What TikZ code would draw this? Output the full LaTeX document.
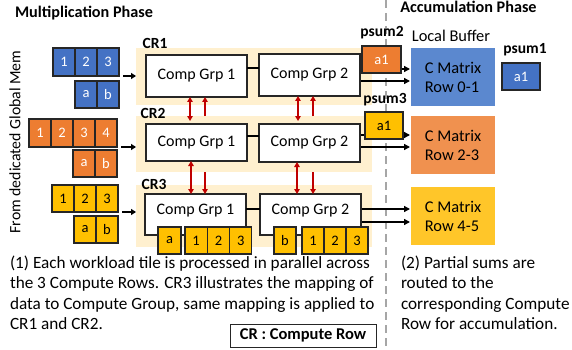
\documentclass[tikz,border=0pt]{standalone}
\usepackage{fontspec}
\setmainfont{Carlito}
\usetikzlibrary{arrows.meta}
\definecolor{tileblue}{HTML}{4472C4}
\definecolor{tileorange}{HTML}{ED7D31}
\definecolor{tileyellow}{HTML}{FFC000}
\definecolor{tileedge}{HTML}{262626}
\definecolor{crfill}{HTML}{FFF0CF}
\definecolor{bufblue}{HTML}{5B88CF}
\definecolor{buforange}{HTML}{F0914F}
\definecolor{bufyellow}{HTML}{FFC629}
\definecolor{linkred}{HTML}{C00000}
\definecolor{divider}{HTML}{A6A6A6}
\begin{document}
\begin{tikzpicture}[x=1pt,y=-1pt,
  every node/.style={inner sep=0pt, outer sep=0pt},
  tile/.style={draw=tileedge, line width=1.1pt, minimum width=22pt, minimum height=27pt,
    anchor=north west, font=\fontsize{14.5}{14.5}\selectfont},
  btile/.style={tile, fill=tileblue, text=white},
  otile/.style={tile, fill=tileorange, text=white},
  ytile/.style={tile, fill=tileyellow, text=black},
  crbox/.style={fill=crfill, anchor=north west},
  grp/.style={draw=tileedge, line width=1.1pt, fill=white, anchor=north west,
    minimum width=101pt, font=\fontsize{16}{16}\selectfont},
  buf/.style={anchor=north west, minimum width=84pt, minimum height=58pt,
    align=left, font=\fontsize{16.4}{19}\selectfont},
  label/.style={font=\bfseries\fontsize{15.5}{15.5}\selectfont},
  heading/.style={font=\bfseries\fontsize{16.2}{16.2}\selectfont},
  inarr/.style={-{Triangle[length=5pt,width=6pt]}, line width=1.3pt},
  outarr/.style={-{Triangle[length=6pt,width=6pt]}, line width=1.3pt},
  link/.style={linkred, line width=1.3pt, >={Triangle[length=5pt,width=5.5pt]}},
  note/.style={anchor=north west, align=left, font=\fontsize{17.2}{20.4}\selectfont},
]
\useasboundingbox (0,0) rectangle (572,350);

% phase divider
\draw[divider, line width=1.6pt, dash pattern=on 8pt off 5pt] (386,0) -- (386,350);

% headings
\node[heading, anchor=west] (multph) at (15,13) {Multiplication Phase};
\node[heading] (accph) at (468.5,7) {Accumulation Phase};
\node[rotate=90, font=\fontsize{15.8}{15.8}\selectfont] (gmem) at (15,142) {From dedicated Global Mem};

% compute row backgrounds
\node[crbox, minimum width=236pt, minimum height=57pt] (cr1) at (136,48) {};
\node[crbox, minimum width=236pt, minimum height=56pt] (cr2) at (136,116) {};
\node[crbox, minimum width=236pt, minimum height=62pt] (cr3) at (136,185) {};
\node[label] (cr1lbl) at (155,43) {CR1};
\node[label] (cr2lbl) at (153,113) {CR2};
\node[label] (cr3lbl) at (154,184) {CR3};

% input tiles, CR1
\node[btile, minimum height=28pt] (b1) at (53,48) {1};
\node[btile, minimum height=28pt] (b2) at (75,48) {2};
\node[btile, minimum height=28pt] (b3) at (97,48) {3};
\node[btile] (ba) at (75,81) {a};
\node[btile] (bb) at (97,81) {b};
% input tiles, CR2
\node[otile, minimum height=28pt] (o1) at (29,119) {1};
\node[otile, minimum height=28pt] (o2) at (51,119) {2};
\node[otile, minimum height=28pt] (o3) at (73,119) {3};
\node[otile, minimum height=28pt] (o4) at (95,119) {4};
\node[otile] (oa) at (73,150) {a};
\node[otile] (ob) at (95,150) {b};
% input tiles, CR3
\node[ytile] (y1) at (52,185) {1};
\node[ytile] (y2) at (74,185) {2};
\node[ytile] (y3) at (96,185) {3};
\node[ytile] (ya) at (74,216) {a};
\node[ytile] (yb) at (96,216) {b};

% feeds into the compute rows
\draw[inarr] ([xshift=4pt]b3.south east) -- (cr1.west |- b3.south east);
\draw[inarr] ([xshift=4pt]o4.south east) -- (cr2.west |- o4.south east);
\draw[inarr] ([xshift=4pt]y3.south east) -- (cr3.west |- y3.south east);

% output routes to the local buffers (drawn under the psum tiles)
\draw[outarr] (360,69) -- (410,69);
\draw[outarr] (360,81) -- (410,81);
\draw[outarr] (360,135) -- (410,135);
\draw[outarr] (360,147) -- (410,147);
\draw[outarr] (361,209) -- (410,209);
\draw[outarr] (361,222) -- (410,222);

% compute groups
\node[grp, minimum height=42pt] (g11) at (146,55) {Comp Grp 1};
\node[grp, minimum height=42pt] (g12) at (259,54) {Comp Grp 2};
\node[grp, minimum height=37pt] (g21) at (146,124) {Comp Grp 1};
\node[grp, minimum height=38pt] (g22) at (259,124) {Comp Grp 2};
\node[grp, minimum height=41pt, text depth=10pt] (g31) at (145,194) {Comp Grp 1};
\node[grp, minimum height=41pt, text depth=10pt] (g32) at (260,194) {Comp Grp 2};

% group-to-group links
\draw[line width=1.3pt] (g11.east |- 0,68) -- (g12.west |- 0,68);
\draw[line width=1.3pt] (g21.east |- 0,136) -- (g22.west |- 0,136);
\draw[line width=1.3pt] (g31.east |- 0,209) -- (g32.west |- 0,209);

% data mapping onto the CR3 groups
\node[ytile, minimum width=23pt] (ma) at (158,227) {a};
\node[ytile, minimum width=22.3pt] (m1) at (185,227) {1};
\node[ytile, minimum width=22.3pt] (m2) at (207.3,227) {2};
\node[ytile, minimum width=22.3pt] (m3) at (229.6,227) {3};
\node[ytile] (mb) at (274,227) {b};
\node[ytile] (n1) at (302,227) {1};
\node[ytile] (n2) at (324,227) {2};
\node[ytile] (n3) at (346,227) {3};

% links between compute rows
\draw[link, <->] (190,0 |- g11.south) -- (190,121);
\draw[link, ->] (205,0 |- cr2.north) -- (205,0 |- g11.south);
\draw[link, <->] (298,0 |- g12.south) -- (298,121);
\draw[link, ->] (313,0 |- cr2.north) -- (313,0 |- g12.south);
\draw[link, <->] (191,0 |- g21.south) -- (191,0 |- g31.north);
\draw[link, ->] (205,0 |- cr2.south) -- (205,0 |- g31.north);
\draw[link, <->] (297,0 |- g22.south) -- (297,0 |- g32.north);
\draw[link, ->] (313,0 |- cr2.south) -- (313,0 |- g32.north);

% partial sums
\node[otile, minimum width=39pt] (ps2) at (362,46) {a1};
\node[ytile, minimum width=38pt] (ps3) at (365,112) {a1};
\node[btile, minimum width=38pt] (ps1) at (502,63) {a1};
\node[label] (ps2lbl) at (382,33) {psum2};
\node[label] (ps3lbl) at (385,100) {psum3};
\node[label] (ps1lbl) at (525,50) {psum1};

% local buffers
\node[font=\fontsize{16.4}{16.4}\selectfont] (lbuf) at (451,36) {Local Buffer};
\node[buf, fill=bufblue] (c01) at (411,48) {C Matrix\\Row 0-1};
\node[buf, fill=buforange] (c23) at (411,116) {C Matrix\\Row 2-3};
\node[buf, fill=bufyellow] (c45) at (411,187) {C Matrix\\Row 4-5};

% notes
\node[note] (note1) at (10,256)
  {(1) Each workload tile is processed in parallel across\\
   the 3 Compute Rows. CR3 illustrates the mapping of\\
   data to Compute Group, same mapping is applied to\\
   CR1 and CR2.};
\node[note] (note2) at (401,256)
  {(2) Partial sums are\\
   routed to the\\
   corresponding Compute\\
   Row for accumulation.};
\node[draw=tileedge, line width=1pt, minimum width=146pt, minimum height=23pt,
  font=\bfseries\fontsize{16.5}{16.5}\selectfont] (legend) at (303,335.5) {CR : Compute Row};
\end{tikzpicture}
\end{document}
